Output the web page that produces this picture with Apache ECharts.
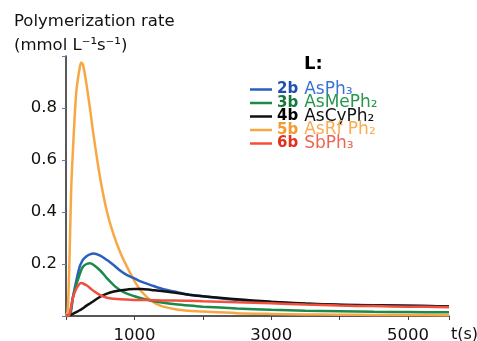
<!DOCTYPE html>
<html>
<head>
<meta charset="utf-8">
<script src="https://cdn.jsdelivr.net/npm/echarts@6/dist/echarts.min.js"></script>
<style>
  html, body { margin: 0; padding: 0; background: #fff; }
  #chart { width: 477px; height: 341px; }
</style>
</head>
<body>
<div id="chart"></div>
<script>
// time points (s)
const times = [0, 25, 50, 75, 100, 150, 200, 225, 250, 300, 350, 400, 500, 600, 700, 800, 900, 1000, 1100, 1250, 1400, 1600, 1800, 2000, 2500, 3000, 3500, 4000, 4500, 5000, 5600];

// polymerization rate (mmol L-1 s-1)
const rate2b = [0, 0, 0.004, 0.02, 0.07, 0.135, 0.19, 0.205, 0.217, 0.23, 0.237, 0.24, 0.232, 0.215, 0.195, 0.173, 0.156, 0.145, 0.132, 0.118, 0.105, 0.093, 0.082, 0.076, 0.062, 0.054, 0.047, 0.043, 0.041, 0.039, 0.037];
const rate3b = [0, 0, 0.004, 0.03, 0.07, 0.12, 0.16, 0.178, 0.19, 0.2, 0.203, 0.197, 0.175, 0.145, 0.118, 0.098, 0.085, 0.076, 0.068, 0.059, 0.052, 0.045, 0.04, 0.036, 0.029, 0.024, 0.02, 0.018, 0.016, 0.015, 0.014];
const rate4b = [0, 0, 0.002, 0.005, 0.008, 0.015, 0.022, 0.026, 0.03, 0.04, 0.048, 0.057, 0.074, 0.086, 0.094, 0.099, 0.102, 0.104, 0.104, 0.1, 0.096, 0.089, 0.082, 0.076, 0.064, 0.055, 0.048, 0.043, 0.041, 0.039, 0.037];
const rate5b = [0, 0.02, 0.21, 0.48, 0.63, 0.86, 0.955, 0.975, 0.965, 0.89, 0.8, 0.7, 0.53, 0.4, 0.31, 0.24, 0.185, 0.135, 0.095, 0.058, 0.038, 0.026, 0.02, 0.017, 0.011, 0.008, 0.006, 0.005, 0.004, 0.004, 0.003];
const rate6b = [0, 0, 0.005, 0.035, 0.07, 0.105, 0.124, 0.127, 0.125, 0.118, 0.108, 0.097, 0.08, 0.07, 0.066, 0.064, 0.063, 0.062, 0.062, 0.061, 0.06, 0.06, 0.059, 0.057, 0.053, 0.049, 0.044, 0.04, 0.038, 0.036, 0.034];

const codes = ['2b', '3b', '4b', '5b', '6b'];
const ligands = ['AsPh₃', 'AsMePh₂', 'AsCyPh₂', 'AsRf Ph₂', 'SbPh₃'];
const lineColors = ['#2a5fc0', '#1b8a4c', '#111111', '#f7a845', '#f0503c'];
const codeColors = ['#1f4fb0', '#17783c', '#000000', '#f39a30', '#e6301f'];
const nameColors = ['#3b72d2', '#27974e', '#111111', '#f7ad55', '#ef6450'];
const rates = [rate2b, rate3b, rate4b, rate5b, rate6b];

const yTicks = ['0.2', '0.4', '0.6', '0.8'];
const xTicks = ['1000', '3000', '5000'];

const font = 'DejaVu Sans';
const chart = echarts.init(document.getElementById('chart'));

const rich = {};
codes.forEach((c, i) => {
    rich['c' + i] = {color: codeColors[i], fontWeight: 'bold', fontSize: 15, fontFamily: font, lineHeight: 13.5};
    rich['n' + i] = {color: nameColors[i], fontSize: 17, fontFamily: font, lineHeight: 13.5, padding: [0, 0, 0, 6]};
});

const series = codes.map((c, i) => ({
    name: c,
    type: 'line',
    smooth: 0.3,
    symbol: 'none',
    data: times.map((t, j) => [t, rates[i][j]]),
    lineStyle: {width: 2.5, color: lineColors[i]},
    itemStyle: {color: lineColors[i]},
    z: i === 3 ? 1 : 2
}));

chart.setOption({
    animation: false,
    backgroundColor: '#fff',
    title: [
        {
            text: 'Polymerization rate\n(mmol L⁻¹s⁻¹)',
            left: 9,
            top: 5,
            textStyle: {fontSize: 16.5, fontWeight: 'normal', color: '#111', fontFamily: font, lineHeight: 24}
        },
        {
            text: 'L:',
            left: 299,
            top: 50,
            textStyle: {fontSize: 18, fontWeight: 'bold', color: '#000', fontFamily: font}
        }
    ],
    legend: {
        orient: 'vertical',
        left: 250,
        top: 81,
        padding: 0,
        itemWidth: 22,
        itemHeight: 2.5,
        itemGap: -3.5,
        icon: 'rect',
        data: codes,
        formatter: function (name) {
            const i = codes.indexOf(name);
            return '{c' + i + '|' + name + '}{n' + i + '|' + ligands[i] + '}';
        },
        textStyle: {lineHeight: 13.5, rich: rich}
    },
    grid: {left: 66, right: 28, top: 56, bottom: 25, containLabel: false, outerBoundsMode: 'none'},
    xAxis: {
        type: 'value',
        min: 0,
        max: 5600,
        interval: 1000,
        name: 't(s)',
        nameLocation: 'end',
        nameGap: 2,
        nameTextStyle: {fontSize: 16, color: '#111', fontFamily: font, verticalAlign: 'top', padding: [11, 0, 0, 0]},
        splitLine: {show: false},
        axisLine: {lineStyle: {color: '#222', width: 1.5}},
        axisTick: {show: true, length: 4, lineStyle: {color: '#444'}},
        axisLabel: {
            fontSize: 16.5,
            color: '#111',
            fontFamily: font,
            margin: 11,
            formatter: v => xTicks.indexOf(String(v)) >= 0 ? String(v) : ''
        }
    },
    yAxis: {
        type: 'value',
        min: 0,
        max: 1,
        interval: 0.2,
        splitLine: {show: false},
        axisLine: {show: true, lineStyle: {color: '#222', width: 1.5}},
        axisTick: {show: true, length: 4, lineStyle: {color: '#4a80d0'}},
        axisLabel: {
            fontSize: 16.5,
            color: '#111',
            fontFamily: font,
            margin: 9,
            formatter: v => {
                const s = v.toFixed(1);
                return yTicks.indexOf(s) >= 0 ? s : '';
            }
        }
    },
    series: series
});
</script>
</body>
</html>
